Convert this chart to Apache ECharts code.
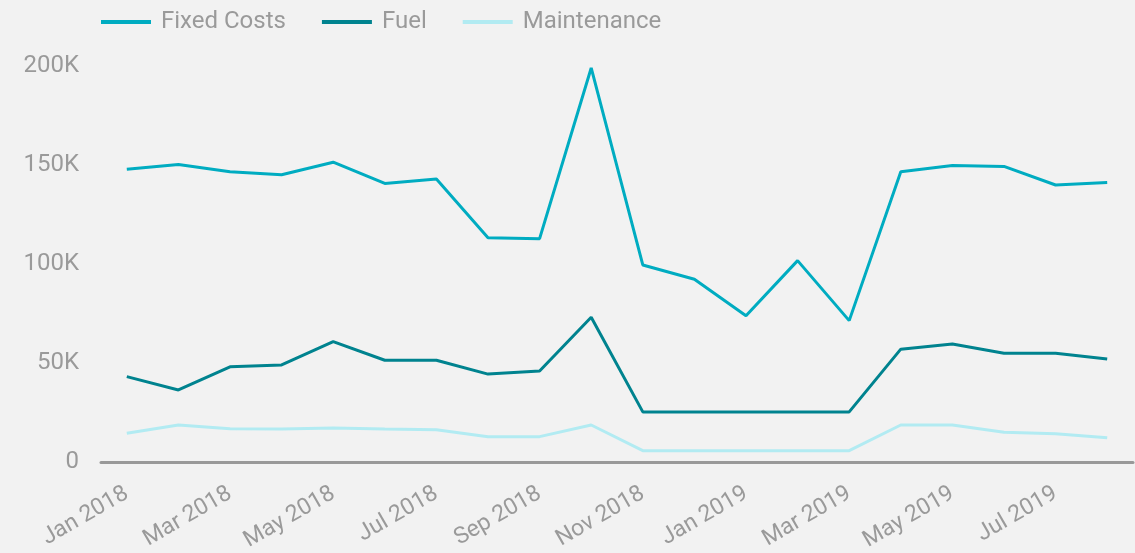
<!DOCTYPE html>
<html>
<head>
<meta charset="utf-8">
<script src="https://cdn.jsdelivr.net/npm/echarts@6/dist/echarts.min.js"></script>
<style>
  html, body { margin: 0; padding: 0; background: #f2f2f2; }
  #chart { width: 1135px; height: 553px; }
</style>
</head>
<body>
<div id="chart"></div>
<script>
// months on the x axis
const months = [
  'Jan 2018', 'Feb 2018', 'Mar 2018', 'Apr 2018', 'May 2018', 'Jun 2018',
  'Jul 2018', 'Aug 2018', 'Sep 2018', 'Oct 2018', 'Nov 2018', 'Dec 2018',
  'Jan 2019', 'Feb 2019', 'Mar 2019', 'Apr 2019', 'May 2019', 'Jun 2019',
  'Jul 2019', 'Aug 2019'
]
const fixedCosts = [
  147800, 150300, 146600, 145100, 151400, 140700, 142900, 113300, 112800, 199000,
  99500, 92300, 73900, 101700, 71400, 146600, 149700, 149300, 139900, 141200
]
const fuel = [
  43100, 36400, 48100, 49000, 60800, 51400, 51400, 44400, 46000, 73100,
  25300, 25300, 25300, 25300, 25300, 57000, 59600, 54900, 54900, 52000
]
const maintenance = [
  14500, 18700, 16800, 16700, 17200, 16700, 16300, 12800, 12800, 18700,
  5700, 5700, 5700, 5700, 5700, 18700, 18700, 15000, 14300, 12300
]

const textColor = '#9a9a9a'
const fontFamily = 'Roboto'

const chart = echarts.init(document.getElementById('chart'))

const makeLine = (name, data, color) => {
  return {
    name: name,
    type: 'line',
    data: data,
    symbol: 'none',
    smooth: false,
    lineStyle: {color: color, width: 3},
    itemStyle: {color: color},
    emphasis: {disabled: true}
  }
}

const option = {
  backgroundColor: '#f2f2f2',
  animation: false,
  legend: {
    left: 96,
    top: 5,
    itemWidth: 50,
    itemHeight: 4,
    itemGap: 36,
    icon: 'rect',
    textStyle: {color: textColor, fontSize: 24, fontFamily: fontFamily, padding: [0, 0, 0, 5]}
  },
  grid: {
    left: 101,
    right: 2,
    top: 66,
    bottom: 91,
    outerBoundsMode: 'none'
  },
  xAxis: {
    type: 'category',
    data: months,
    boundaryGap: true,
    axisLine: {lineStyle: {color: '#999999', width: 3}},
    axisTick: {show: false},
    axisLabel: {
      interval: 1,
      rotate: 30,
      color: textColor,
      fontSize: 23,
      fontFamily: fontFamily,
      margin: 30
    }
  },
  yAxis: {
    type: 'value',
    min: 0,
    max: 200000,
    interval: 50000,
    splitLine: {show: false},
    axisLine: {show: false},
    axisTick: {show: false},
    axisLabel: {
      color: textColor,
      fontSize: 24,
      fontFamily: fontFamily,
      margin: 22,
      formatter: (v) => v === 0 ? '0' : (v / 1000) + 'K'
    }
  },
  series: [
    makeLine('Fixed Costs', fixedCosts, '#00acc1'),
    makeLine('Fuel', fuel, '#00838f'),
    makeLine('Maintenance', maintenance, '#b2ebf2')
  ]
}

chart.setOption(option)
</script>
</body>
</html>
